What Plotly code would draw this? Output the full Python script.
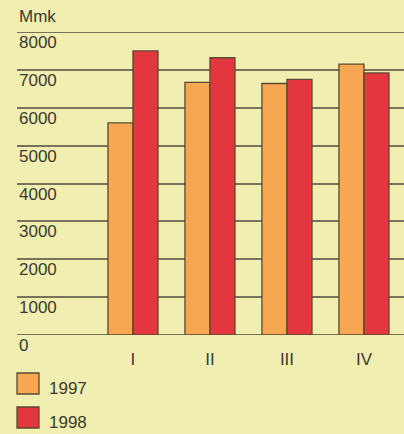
import plotly.graph_objects as go

quarters = ["I", "II", "III", "IV"]
series_names = ["1997", "1998"]
values_1997 = [5600, 6670, 6640, 7150]
values_1998 = [7500, 7320, 6750, 6920]
y_ticks = [0, 1000, 2000, 3000, 4000, 5000, 6000, 7000, 8000]
y_unit = "Mmk"

colors = ["#F7A652", "#E3363E"]
bg = "#F0EEB0"
grid_col = "#77725A"
text_col = "#3A3A30"
edge_col = "#5A4A2E"

W, H = 404, 434
L, R, T, B = 17, 0, 32, 99
pw, ph = W - L - R, H - T - B

def px(x):
    return (x - L) / pw

def py(y):
    return (H - B - y) / ph

fig = go.Figure()
for name, vals, c in zip(series_names, [values_1997, values_1998], colors):
    fig.add_trace(go.Bar(x=quarters, y=vals, name=name, marker=dict(color=c, line=dict(color=edge_col, width=1.3))))

annotations = []
for v in y_ticks:
    annotations.append(dict(x=0, xref="paper", y=v, yref="y", xanchor="left", yanchor="top",
                            text=str(v), showarrow=False, yshift=1,
                            font=dict(size=17, color=text_col, family="Liberation Sans")))
annotations.append(dict(x=0, xref="paper", y=py(16), yref="paper", xanchor="left", yanchor="middle",
                        text=y_unit, showarrow=False, font=dict(size=17, color=text_col, family="Liberation Sans")))

shapes = []
for v in (y_ticks[0], y_ticks[-1]):
    shapes.append(dict(type="line", xref="paper", yref="y", x0=0, x1=1, y0=v, y1=v,
                       line=dict(color=grid_col, width=2), layer="below"))
for i, (name, c) in enumerate(zip(series_names, colors)):
    top = 373 + i * 34
    shapes.append(dict(type="rect", xref="paper", yref="paper", x0=px(17), x1=px(39), y0=py(top), y1=py(top + 21),
                       fillcolor=c, line=dict(color=edge_col, width=1.3), layer="above"))
    annotations.append(dict(x=px(47), xref="paper", y=py(top + 15), yref="paper", xanchor="left", yanchor="middle",
                            text=name, showarrow=False, font=dict(size=17, color=text_col, family="Liberation Sans")))

fig.update_layout(
    width=W, height=H,
    margin=dict(l=L, r=R, t=T, b=B, pad=0),
    paper_bgcolor=bg, plot_bgcolor=bg,
    barmode="group", bargap=0.35, bargroupgap=0,
    showlegend=False,
    annotations=annotations,
    shapes=shapes,
    xaxis=dict(range=[-1.506, 3.52], showgrid=False, zeroline=False, showline=False, ticks="",
               tickfont=dict(size=17, color=text_col, family="Liberation Sans"), ticklabelstandoff=12),
    yaxis=dict(range=[0, 8000], tickvals=y_ticks, showticklabels=False, showgrid=True,
               gridcolor=grid_col, gridwidth=2, zeroline=False, showline=False),
)
fig.write_html("out.html", config={"displayModeBar": False},
               post_script="document.body.style.margin='0';document.body.style.overflow='hidden';document.body.style.background='%s';" % bg)
